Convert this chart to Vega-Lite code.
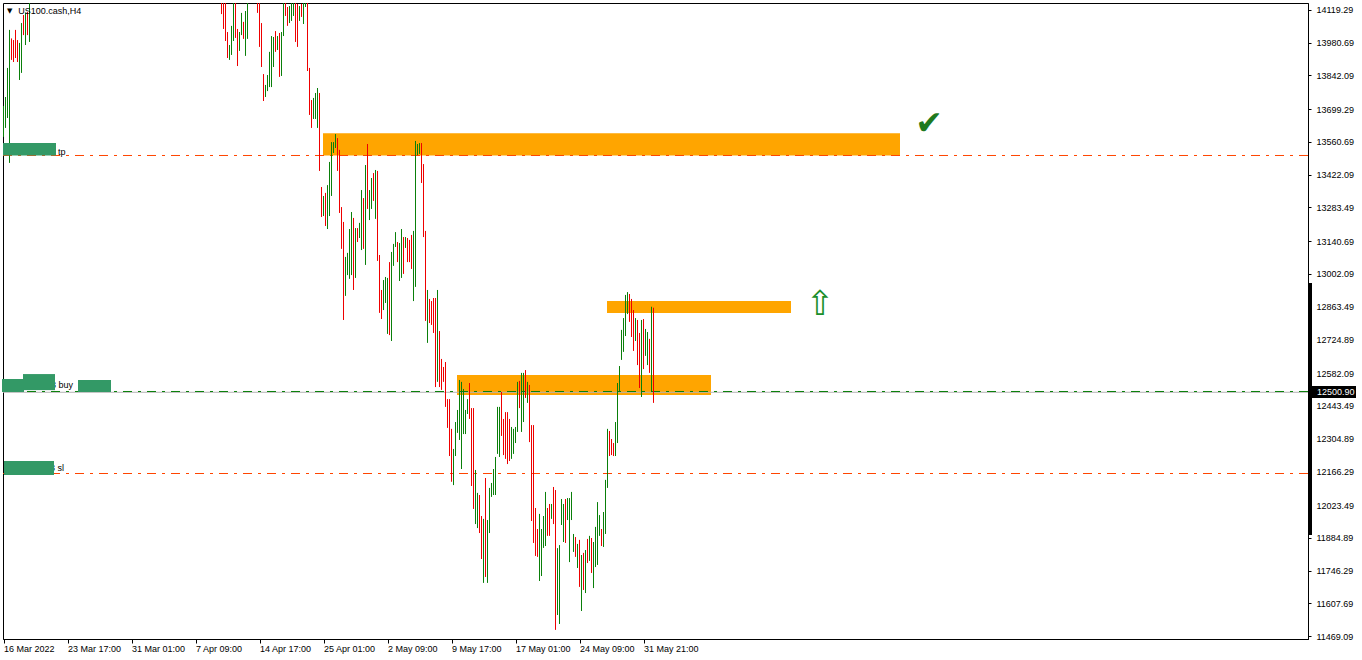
{
  "$schema": "https://vega.github.io/schema/vega-lite/v6.json",
  "width": 1305,
  "height": 636,
  "autosize": {"type": "none"},
  "padding": {"left": 3, "top": 3, "right": 54, "bottom": 21},
  "background": "#ffffff",
  "config": {
    "view": {"stroke": "#000000", "strokeWidth": 1},
    "font": "Liberation Sans",
    "axis": {"labelOverlap": false, "labelBound": false, "labelFlush": false, "grid": false}
  },
  "datasets": {
    "bars": [
      {"i":0,"h":13713,"l":13582,"d":"up"},{"i":1,"h":13751,"l":13620,"d":"up"},{"i":2,"h":13874,"l":13662,"d":"up"},{"i":3,"h":14035,"l":13472,"d":"up"},{"i":4,"h":13999,"l":13908,"d":"down"},{"i":5,"h":13992,"l":13899,"d":"down"},{"i":6,"h":14035,"l":13916,"d":"down"},{"i":7,"h":13992,"l":13899,"d":"down"},{"i":8,"h":13980,"l":13823,"d":"up"},{"i":9,"h":14064,"l":13853,"d":"up"},{"i":10,"h":14098,"l":14013,"d":"down"},{"i":11,"h":14107,"l":13971,"d":"up"},{"i":12,"h":14111,"l":14013,"d":"down"},{"i":13,"h":14190,"l":13984,"d":"up"},
      {"i":109,"h":14190,"l":14102,"d":"down"},{"i":110,"h":14190,"l":14039,"d":"down"},{"i":111,"h":14190,"l":13988,"d":"down"},{"i":112,"h":14026,"l":13916,"d":"down"},{"i":113,"h":13971,"l":13908,"d":"up"},{"i":114,"h":14052,"l":13929,"d":"up"},{"i":115,"h":14190,"l":13988,"d":"up"},{"i":116,"h":14190,"l":14001,"d":"down"},{"i":117,"h":14039,"l":13882,"d":"down"},{"i":118,"h":14026,"l":13946,"d":"up"},{"i":119,"h":14107,"l":14013,"d":"up"},{"i":120,"h":14069,"l":13997,"d":"down"},{"i":121,"h":14115,"l":13925,"d":"up"},{"i":122,"h":14190,"l":13997,"d":"up"},
      {"i":127,"h":14190,"l":14107,"d":"down"},{"i":128,"h":14190,"l":13963,"d":"down"},{"i":129,"h":14064,"l":13878,"d":"down"},{"i":130,"h":13848,"l":13734,"d":"down"},{"i":131,"h":13802,"l":13751,"d":"up"},{"i":132,"h":13844,"l":13776,"d":"up"},{"i":133,"h":13942,"l":13793,"d":"up"},{"i":134,"h":14009,"l":13793,"d":"up"},{"i":135,"h":14005,"l":13878,"d":"up"},{"i":136,"h":14030,"l":13942,"d":"down"},{"i":137,"h":14009,"l":13950,"d":"up"},{"i":138,"h":14022,"l":13836,"d":"down"},{"i":139,"h":14026,"l":13840,"d":"up"},{"i":140,"h":14190,"l":14009,"d":"up"},{"i":141,"h":14190,"l":14094,"d":"down"},{"i":142,"h":14132,"l":14052,"d":"down"},{"i":143,"h":14136,"l":14064,"d":"up"},{"i":144,"h":14190,"l":14073,"d":"up"},{"i":145,"h":14190,"l":14094,"d":"up"},{"i":146,"h":14190,"l":13984,"d":"down"},{"i":147,"h":14145,"l":13963,"d":"down"},{"i":148,"h":14136,"l":14073,"d":"up"},{"i":149,"h":14145,"l":14090,"d":"down"},{"i":150,"h":14190,"l":14060,"d":"up"},{"i":151,"h":14190,"l":14132,"d":"up"},{"i":152,"h":14190,"l":13861,"d":"down"},{"i":153,"h":13874,"l":13675,"d":"down"},{"i":154,"h":13738,"l":13620,"d":"down"},{"i":155,"h":13747,"l":13658,"d":"up"},{"i":156,"h":13768,"l":13658,"d":"up"},{"i":157,"h":13789,"l":13620,"d":"up"},
      {"i":158,"h":13768,"l":13438,"d":"down"},{"i":159,"h":13370,"l":13243,"d":"down"},{"i":160,"h":13332,"l":13247,"d":"up"},{"i":161,"h":13345,"l":13205,"d":"down"},{"i":162,"h":13378,"l":13192,"d":"up"},{"i":163,"h":13476,"l":13247,"d":"up"},{"i":164,"h":13560,"l":13332,"d":"up"},{"i":165,"h":13560,"l":13514,"d":"up"},{"i":166,"h":13594,"l":13535,"d":"up"},{"i":167,"h":13577,"l":13438,"d":"down"},{"i":168,"h":13527,"l":13260,"d":"down"},{"i":169,"h":13285,"l":13108,"d":"down"},{"i":170,"h":13222,"l":12807,"d":"down"},{"i":171,"h":13074,"l":12909,"d":"up"},{"i":172,"h":13091,"l":12997,"d":"up"},{"i":173,"h":13192,"l":12981,"d":"up"},{"i":174,"h":13264,"l":12997,"d":"up"},{"i":175,"h":13239,"l":12934,"d":"down"},{"i":176,"h":13196,"l":12985,"d":"up"},{"i":177,"h":13196,"l":13137,"d":"down"},{"i":178,"h":13218,"l":13154,"d":"up"},{"i":179,"h":13357,"l":13103,"d":"up"},{"i":180,"h":13323,"l":13108,"d":"down"},{"i":181,"h":13463,"l":13040,"d":"up"},{"i":182,"h":13552,"l":13277,"d":"down"},{"i":183,"h":13357,"l":13230,"d":"up"},{"i":184,"h":13408,"l":13277,"d":"up"},{"i":185,"h":13429,"l":13311,"d":"down"},{"i":186,"h":13442,"l":13235,"d":"up"},{"i":187,"h":13438,"l":13057,"d":"down"},{"i":188,"h":13082,"l":12837,"d":"down"},{"i":189,"h":12934,"l":12811,"d":"down"},{"i":190,"h":12976,"l":12849,"d":"up"},{"i":191,"h":12989,"l":12879,"d":"up"},{"i":192,"h":12985,"l":12748,"d":"up"},{"i":193,"h":13052,"l":12743,"d":"down"},{"i":194,"h":13095,"l":12718,"d":"up"},{"i":195,"h":13129,"l":13036,"d":"up"},{"i":196,"h":13179,"l":13116,"d":"up"},{"i":197,"h":13137,"l":13052,"d":"down"},{"i":198,"h":13133,"l":12972,"d":"up"},{"i":199,"h":13192,"l":12985,"d":"up"},{"i":200,"h":13158,"l":13002,"d":"down"},{"i":201,"h":13158,"l":13112,"d":"up"},{"i":202,"h":13154,"l":13052,"d":"down"},{"i":203,"h":13146,"l":13052,"d":"down"},{"i":204,"h":13167,"l":13023,"d":"down"},{"i":205,"h":13184,"l":12887,"d":"up"},{"i":206,"h":13565,"l":12947,"d":"up"},{"i":207,"h":13552,"l":13505,"d":"up"},{"i":208,"h":13556,"l":13510,"d":"up"},{"i":209,"h":13556,"l":13387,"d":"down"},{"i":210,"h":13467,"l":13158,"d":"down"},{"i":211,"h":13184,"l":12803,"d":"down"},{"i":212,"h":12934,"l":12710,"d":"up"},{"i":213,"h":12896,"l":12794,"d":"down"},{"i":214,"h":12887,"l":12786,"d":"down"},{"i":215,"h":12900,"l":12752,"d":"down"},{"i":216,"h":12900,"l":12523,"d":"down"},{"i":217,"h":12934,"l":12545,"d":"up"},{"i":218,"h":12760,"l":12523,"d":"down"},{"i":219,"h":12642,"l":12511,"d":"down"},{"i":220,"h":12608,"l":12545,"d":"down"},{"i":221,"h":12629,"l":12439,"d":"down"},{"i":222,"h":12472,"l":12350,"d":"down"},{"i":223,"h":12472,"l":12231,"d":"down"},{"i":224,"h":12346,"l":12122,"d":"down"},
      {"i":225,"h":12261,"l":12108,"d":"up"},{"i":226,"h":12375,"l":12231,"d":"up"},{"i":227,"h":12426,"l":12329,"d":"up"},{"i":228,"h":12553,"l":12299,"d":"up"},{"i":229,"h":12545,"l":12176,"d":"up"},{"i":230,"h":12515,"l":12324,"d":"up"},{"i":231,"h":12426,"l":12324,"d":"up"},{"i":232,"h":12472,"l":12409,"d":"up"},{"i":233,"h":12540,"l":12388,"d":"down"},{"i":234,"h":12434,"l":12104,"d":"down"},{"i":235,"h":12434,"l":12007,"d":"down"},{"i":236,"h":12172,"l":11943,"d":"up"},{"i":237,"h":12075,"l":11926,"d":"up"},{"i":238,"h":12066,"l":11905,"d":"down"},{"i":239,"h":11977,"l":11795,"d":"down"},{"i":240,"h":11965,"l":11694,"d":"up"},{"i":241,"h":12138,"l":11719,"d":"down"},{"i":242,"h":11960,"l":11694,"d":"up"},{"i":243,"h":12096,"l":11905,"d":"up"},{"i":244,"h":12117,"l":12058,"d":"up"},{"i":245,"h":12176,"l":12066,"d":"up"},{"i":246,"h":12227,"l":12066,"d":"up"},{"i":247,"h":12439,"l":12240,"d":"up"},{"i":248,"h":12439,"l":12227,"d":"up"},{"i":249,"h":12502,"l":12316,"d":"down"},{"i":250,"h":12388,"l":12235,"d":"down"},{"i":251,"h":12417,"l":12219,"d":"down"},{"i":252,"h":12417,"l":12197,"d":"down"},{"i":253,"h":12388,"l":12210,"d":"down"},{"i":254,"h":12354,"l":12219,"d":"up"},{"i":255,"h":12346,"l":12240,"d":"up"},{"i":256,"h":12354,"l":12286,"d":"up"},{"i":257,"h":12545,"l":12333,"d":"up"},{"i":258,"h":12549,"l":12434,"d":"down"},{"i":259,"h":12583,"l":12333,"d":"up"},{"i":260,"h":12583,"l":12375,"d":"up"},{"i":261,"h":12595,"l":12477,"d":"down"},{"i":262,"h":12545,"l":12456,"d":"up"},{"i":263,"h":12532,"l":12290,"d":"down"},{"i":264,"h":12362,"l":11956,"d":"down"},{"i":265,"h":12362,"l":11863,"d":"down"},{"i":266,"h":12011,"l":11808,"d":"down"},{"i":267,"h":11922,"l":11804,"d":"down"},{"i":268,"h":11986,"l":11702,"d":"up"},{"i":269,"h":11922,"l":11723,"d":"up"},{"i":270,"h":11977,"l":11842,"d":"up"},{"i":271,"h":12079,"l":11850,"d":"up"},{"i":272,"h":12011,"l":11893,"d":"down"},{"i":273,"h":12028,"l":11893,"d":"down"},{"i":274,"h":12028,"l":11965,"d":"up"},{"i":275,"h":12100,"l":11943,"d":"down"},{"i":276,"h":12087,"l":11495,"d":"down"},{"i":277,"h":11841,"l":11558,"d":"up"},{"i":278,"h":11854,"l":11520,"d":"up"},{"i":279,"h":12049,"l":11939,"d":"up"},{"i":280,"h":12028,"l":11867,"d":"up"},{"i":281,"h":12049,"l":11863,"d":"down"},{"i":282,"h":12053,"l":11960,"d":"up"},{"i":283,"h":12053,"l":11782,"d":"up"},{"i":284,"h":12079,"l":11960,"d":"up"},{"i":285,"h":11901,"l":11825,"d":"up"},{"i":286,"h":11888,"l":11804,"d":"down"},{"i":287,"h":11859,"l":11757,"d":"up"},{"i":288,"h":11876,"l":11677,"d":"down"},{"i":289,"h":11812,"l":11575,"d":"up"},{"i":290,"h":11821,"l":11664,"d":"down"},{"i":291,"h":11833,"l":11651,"d":"up"},{"i":292,"h":11880,"l":11778,"d":"down"},{"i":293,"h":11893,"l":11787,"d":"up"},{"i":294,"h":11884,"l":11736,"d":"down"},{"i":295,"h":11867,"l":11672,"d":"up"},{"i":296,"h":11931,"l":11761,"d":"up"},{"i":297,"h":12036,"l":11770,"d":"up"},{"i":298,"h":11981,"l":11893,"d":"up"},{"i":299,"h":11922,"l":11850,"d":"down"},{"i":300,"h":11994,"l":11846,"d":"up"},{"i":301,"h":12130,"l":11901,"d":"up"},{"i":302,"h":12346,"l":12096,"d":"up"},{"i":303,"h":12337,"l":12231,"d":"down"},{"i":304,"h":12303,"l":12235,"d":"down"},{"i":305,"h":12286,"l":12231,"d":"down"},{"i":306,"h":12375,"l":12231,"d":"up"},{"i":307,"h":12540,"l":12286,"d":"up"},{"i":308,"h":12612,"l":12502,"d":"up"},{"i":309,"h":12765,"l":12638,"d":"up"},{"i":310,"h":12815,"l":12672,"d":"up"},{"i":311,"h":12913,"l":12739,"d":"up"},{"i":312,"h":12925,"l":12832,"d":"up"},{"i":313,"h":12917,"l":12799,"d":"down"},{"i":314,"h":12896,"l":12735,"d":"down"},{"i":315,"h":12849,"l":12676,"d":"down"},{"i":316,"h":12815,"l":12718,"d":"up"},{"i":317,"h":12807,"l":12616,"d":"down"},{"i":318,"h":12752,"l":12519,"d":"down"},{"i":319,"h":12807,"l":12481,"d":"up"},{"i":320,"h":12811,"l":12599,"d":"down"},{"i":321,"h":12769,"l":12655,"d":"up"},{"i":322,"h":12756,"l":12616,"d":"up"},{"i":323,"h":12727,"l":12583,"d":"down"},{"i":324,"h":12863,"l":12502,"d":"up"},{"i":325,"h":12859,"l":12456,"d":"down"}
    ],
    "zones": [
      {"x1":159.75,"x2":448.25,"y1":13503,"y2":13598},
      {"x1":301.75,"x2":393.75,"y1":12837,"y2":12887},
      {"x1":226.75,"x2":353.75,"y1":12489,"y2":12574}
    ],
    "levels": [
      {"name":"tp","p":13503.3},
      {"name":"sl","p":12157},
      {"name":"buy","p":12504.2},
      {"name":"bid","p":12500.9}
    ],
    "boxes": [
      {"x1":-0.25,"x2":26.25,"y1":13503,"y2":13556},
      {"x1":-0.75,"x2":10.25,"y1":12502,"y2":12557},
      {"x1":9.75,"x2":25.75,"y1":12510,"y2":12578},
      {"x1":37.25,"x2":53.75,"y1":12502,"y2":12553},
      {"x1":0.25,"x2":25.25,"y1":12151,"y2":12210}
    ],
    "labels": [
      {"x":27.25,"p":13520,"t":"tp"},
      {"x":23.75,"p":12532,"t":"3 buy"},
      {"x":23.25,"p":12182,"t":"3 sl"}
    ]
  },
  "layer": [
    {
      "data": {"name": "zones"},
      "mark": {"type": "rect", "color": "#ffa500", "opacity": 1},
      "encoding": {
        "x": {"field": "x1", "type": "quantitative", "title": null,
          "scale": {"domain": [-0.25, 652.25], "nice": false, "zero": false},
          "axis": {"orient": "bottom", "values": [0,32,64,96,128,160,192,224,256,288,320], "tickCount": 40,
            "labelExpr": "['16 Mar 2022','23 Mar 17:00','31 Mar 01:00','7 Apr 09:00','14 Apr 17:00','25 Apr 01:00','2 May 09:00','9 May 17:00','17 May 01:00','24 May 09:00','31 May 21:00'][round(datum.value/32)]",
            "labelAlign": "left", "labelBaseline": "top", "labelPadding": 1, "labelDx": 1,
            "tickSize": 4, "tickColor": "#000000", "domainColor": "#000000", "labelColor": "#000000",
            "labelFont": "Liberation Sans", "labelFontSize": 9, "grid": false,
            "labelOverlap": false, "labelFlush": false, "labelBound": false}},
        "x2": {"field": "x2", "title": null},
        "y": {"field": "y1", "type": "quantitative", "title": null,
          "scale": {"domain": [11456.4, 14148.9], "nice": false, "zero": false},
          "axis": {"orient": "right", "values": [14119.29,13980.69,13842.09,13699.29,13560.69,13422.09,13283.49,13140.69,13002.09,12863.49,12724.89,12582.09,12443.49,12304.89,12166.29,12023.49,11884.89,11746.29,11607.69,11469.09], "tickCount": 40,
            "format": ".2f", "tickSize": 3, "labelPadding": 5, "tickColor": "#000000", "domainColor": "#000000",
            "labelColor": "#000000", "labelFont": "Liberation Sans", "labelFontSize": 9, "grid": false,
            "labelOverlap": false, "labelFlush": false, "labelBound": false}},
        "y2": {"field": "y2", "title": null}
      }
    },
    {
      "data": {"name": "levels"},
      "transform": [{"filter": "datum.name == 'tp' || datum.name == 'sl'"}],
      "mark": {"type": "rule", "color": "#ff4500", "strokeWidth": 1, "strokeDash": [9, 6, 3, 6]},
      "encoding": {"y": {"field": "p", "type": "quantitative", "title": null}}
    },
    {
      "data": {"name": "levels"},
      "transform": [{"filter": "datum.name == 'bid'"}],
      "mark": {"type": "rule", "color": "#b4b4b4", "strokeWidth": 1},
      "encoding": {"y": {"field": "p", "type": "quantitative", "title": null}}
    },
    {
      "data": {"name": "levels"},
      "transform": [{"filter": "datum.name == 'buy'"}],
      "mark": {"type": "rule", "color": "#0a7f0a", "strokeWidth": 1, "strokeDash": [9, 6, 3, 6]},
      "encoding": {"y": {"field": "p", "type": "quantitative", "title": null}}
    },
    {
      "data": {"name": "bars"},
      "mark": {"type": "rule", "strokeWidth": 1, "clip": true},
      "encoding": {
        "x": {"field": "i", "type": "quantitative", "title": null},
        "y": {"field": "l", "type": "quantitative", "title": null},
        "y2": {"field": "h", "title": null},
        "color": {"field": "d", "type": "nominal", "legend": null,
          "scale": {"domain": ["up", "down"], "range": ["#0a7f0a", "#ee0000"]}}
      }
    },
    {
      "data": {"name": "labels"},
      "mark": {"type": "text", "align": "left", "baseline": "middle", "font": "Liberation Sans", "fontSize": 9, "color": "#000000"},
      "encoding": {
        "x": {"field": "x", "type": "quantitative", "title": null},
        "y": {"field": "p", "type": "quantitative", "title": null},
        "text": {"field": "t"}
      }
    },
    {
      "data": {"name": "boxes"},
      "mark": {"type": "rect", "color": "#339966", "opacity": 1},
      "encoding": {
        "x": {"field": "x1", "type": "quantitative", "title": null},
        "x2": {"field": "x2", "title": null},
        "y": {"field": "y1", "type": "quantitative", "title": null},
        "y2": {"field": "y2", "title": null}
      }
    },
    {
      "data": {"values": [{"x": 7.4, "p": 14117, "t": "US100.cash,H4"}]},
      "mark": {"type": "text", "align": "left", "baseline": "middle", "font": "Liberation Sans", "fontSize": 9, "color": "#000000"},
      "encoding": {
        "x": {"field": "x", "type": "quantitative", "title": null},
        "y": {"field": "p", "type": "quantitative", "title": null},
        "text": {"field": "t"}
      }
    },
    {
      "data": {"values": [{"x": 3.1, "p": 14116, "t": "▼"}]},
      "mark": {"type": "text", "align": "center", "baseline": "middle", "font": "DejaVu Sans", "fontSize": 7, "color": "#000000"},
      "encoding": {
        "x": {"field": "x", "type": "quantitative", "title": null},
        "y": {"field": "p", "type": "quantitative", "title": null},
        "text": {"field": "t"}
      }
    },
    {
      "data": {"values": [{"x": 462.75, "p": 13637, "t": "✔"}]},
      "mark": {"type": "text", "align": "center", "baseline": "middle", "font": "DejaVu Sans", "fontSize": 33, "color": "#1f7a1f"},
      "encoding": {
        "x": {"field": "x", "type": "quantitative", "title": null},
        "y": {"field": "p", "type": "quantitative", "title": null},
        "text": {"field": "t"}
      }
    },
    {
      "data": {"values": [{"x": 408.25, "p": 12870, "t": "⇧"}]},
      "mark": {"type": "text", "align": "center", "baseline": "middle", "font": "DejaVu Sans", "fontSize": 34, "color": "#1a8f2a"},
      "encoding": {
        "x": {"field": "x", "type": "quantitative", "title": null},
        "y": {"field": "p", "type": "quantitative", "title": null},
        "text": {"field": "t"}
      }
    },
    {
      "data": {"values": [{"x": 652.25, "p1": 12963.5, "p2": 11896.7}]},
      "mark": {"type": "rule", "color": "#000000", "strokeWidth": 3, "xOffset": 2.5},
      "encoding": {
        "x": {"field": "x", "type": "quantitative", "title": null},
        "y": {"field": "p1", "type": "quantitative", "title": null},
        "y2": {"field": "p2", "title": null}
      }
    },
    {
      "data": {"values": [{"x1": 653.75, "x2": 676.25, "y1": 12476.7, "y2": 12527.5}]},
      "mark": {"type": "rect", "color": "#000000", "opacity": 1},
      "encoding": {
        "x": {"field": "x1", "type": "quantitative", "title": null},
        "x2": {"field": "x2", "title": null},
        "y": {"field": "y1", "type": "quantitative", "title": null},
        "y2": {"field": "y2", "title": null}
      }
    },
    {
      "data": {"values": [{"x": 656.75, "p": 12500.9, "t": "12500.90"}]},
      "mark": {"type": "text", "align": "left", "baseline": "middle", "font": "Liberation Sans", "fontSize": 9, "color": "#ffffff"},
      "encoding": {
        "x": {"field": "x", "type": "quantitative", "title": null},
        "y": {"field": "p", "type": "quantitative", "title": null},
        "text": {"field": "t"}
      }
    }
  ]
}
